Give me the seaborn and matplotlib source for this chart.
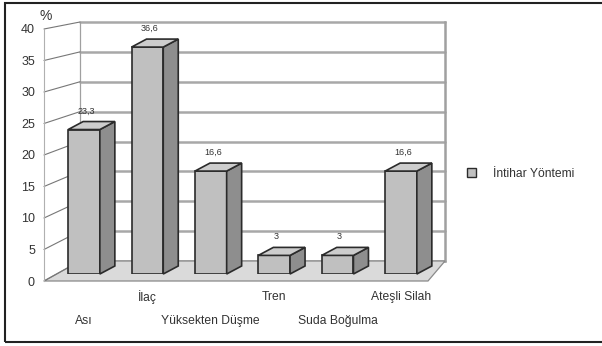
import matplotlib
matplotlib.use("Agg")
import matplotlib.pyplot as plt
import seaborn as sns
import pandas as pd
from matplotlib.patches import Polygon, Rectangle, Patch
from matplotlib.lines import Line2D

# ---- data ----
categories = ["Ası", "İlaç", "Yüksekten Düşme", "Tren", "Suda Boğulma", "Ateşli Silah"]
values = [23.3, 36.6, 16.6, 3, 3, 16.6]
series_name = "İntihar Yöntemi"
y_ticks = [0, 5, 10, 15, 20, 25, 30, 35, 40]

df = pd.DataFrame({"method": categories, "pct": values})

sns.set_theme(style="white")
plt.rcParams["font.family"] = ["Liberation Sans", "DejaVu Sans"]

W, H = 602, 346
fig = plt.figure(figsize=(W / 100, H / 100), dpi=100)
fig.patch.set_facecolor("white")


def rect(l, t, r, b):
    return [l / W, 1 - b / H, (r - l) / W, (b - t) / H]


TXT = "#333333"
FRONT, SIDE, TOP, EDGE = "#c0c0c0", "#8e8e8e", "#cdcdcd", "#2b2b2b"
DX, DY = 15, 8  # depth offset in pixels

# back wall
axC = fig.add_axes(rect(80, 22, 445, 261), zorder=0)
axC.set_facecolor("none")
axC.set_xlim(0, 1)
axC.set_ylim(0, 40)
axC.set_yticks(y_ticks)
axC.set_xticks([])
axC.tick_params(axis="y", length=0, labelleft=False)
axC.yaxis.grid(True, color="#a8a8a8", lw=1.8)
for ln in axC.get_ygridlines():
    ln.set_clip_on(False)
for s in ["top", "bottom"]:
    axC.spines[s].set_visible(False)
axC.spines["left"].set_color("#a0a0a0")
axC.spines["left"].set_linewidth(0.9)
axC.spines["right"].set_color("#a0a0a0")
axC.spines["right"].set_linewidth(1.8)

# front value axis
axB = fig.add_axes(rect(44, 29, 45, 281), zorder=0.5)
axB.set_facecolor("none")
axB.set_xlim(0, 1)
axB.set_ylim(0, 40)
axB.set_yticks(y_ticks)
axB.set_xticks([])
axB.tick_params(axis="y", length=0, pad=6.5, labelsize=9, labelcolor=TXT)
for s in ["top", "bottom", "right"]:
    axB.spines[s].set_visible(False)
axB.spines["left"].set_color("#b0b0b0")
axB.spines["left"].set_linewidth(0.8)

# bars
axA = fig.add_axes(rect(44, 26, 428, 274), zorder=1)
axA.set_facecolor("none")
sns.barplot(data=df, x="method", y="pct", color=FRONT, saturation=1, width=0.5,
            edgecolor=EDGE, linewidth=1.2, ax=axA, label=series_name)
if axA.get_legend() is not None:
    axA.get_legend().remove()
axA.set_xlim(-0.631, 5.426)
axA.set_ylim(0, 40)
axA.set_xticks([])
axA.set_yticks([])
axA.set_xlabel("")
axA.set_ylabel("")
for s in axA.spines.values():
    s.set_visible(False)

inv = fig.transFigure.inverted()


def tofig(pts):
    return inv.transform(pts)


# floor
fl = axB.transData.transform((0, 0))
bl = axC.transData.transform((0, 0))
br = axC.transData.transform((1, 0))
fr_x = axA.transAxes.transform((1, 0))[0]
floor = Polygon(tofig([fl, (fr_x, fl[1]), br, bl]), closed=True, transform=fig.transFigure,
                facecolor="#dadada", edgecolor="#8a8a8a", lw=0.9, zorder=0.3)
fig.add_artist(floor)

# left wall tick connectors
for v in y_ticks:
    p0 = axB.transData.transform((0, v))
    p1 = axC.transData.transform((0, v))
    pts = tofig([p0, p1])
    fig.add_artist(Line2D(pts[:, 0], pts[:, 1], transform=fig.transFigure,
                          color="#777777", lw=0.8, zorder=0.4))

# 3D faces on bars
for p in axA.patches:
    x0, x1 = p.get_x(), p.get_x() + p.get_width()
    h = p.get_height()
    X0, Y0 = axA.transData.transform((x0, 0))
    X1, Y1 = axA.transData.transform((x1, h))
    side = [(X1, Y0), (X1, Y1), (X1 + DX, Y1 + DY), (X1 + DX, Y0 + DY)]
    top = [(X0, Y1), (X1, Y1), (X1 + DX, Y1 + DY), (X0 + DX, Y1 + DY)]
    fig.add_artist(Polygon(tofig(side), closed=True, transform=fig.transFigure,
                           facecolor=SIDE, edgecolor=EDGE, lw=1.2, zorder=2))
    fig.add_artist(Polygon(tofig(top), closed=True, transform=fig.transFigure,
                           facecolor=TOP, edgecolor=EDGE, lw=1.2, zorder=2))

# value labels
for i, v in enumerate(values):
    txt = f"{v:g}".replace(".", ",")
    axA.annotate(txt, xy=(i, v), xytext=(2 * 0.72, (DY + 6) * 0.72),
                 textcoords="offset points", ha="center", va="bottom",
                 fontsize=6.5, color=TXT, zorder=3, annotation_clip=False)

# staggered category labels
for i, c in enumerate(categories):
    off = 23 if i % 2 == 1 else 47
    axA.annotate(c, xy=(i, 0), xycoords=("data", "axes fraction"),
                 xytext=(0, -off * 0.72), textcoords="offset points",
                 ha="center", va="center", fontsize=8.7, color=TXT,
                 annotation_clip=False)

# percent sign
fig.text(46 / W, 1 - 16 / H, "%", ha="center", va="center", fontsize=10, color=TXT)

# legend
leg = fig.legend([Patch(facecolor=FRONT, edgecolor=EDGE, lw=1.0)], [series_name],
                 loc="center left", bbox_to_anchor=(467 / W, 1 - 174 / H), frameon=False,
                 fontsize=8.7, handlelength=0.75, handleheight=0.75,
                 handletextpad=1.4, borderpad=0, borderaxespad=0)
for t in leg.get_texts():
    t.set_color(TXT)

# outer border
fig.add_artist(Rectangle((5 / W, 1 - 342 / H), (W + 10) / W, (342 - 3) / H,
                         transform=fig.transFigure, fill=False, edgecolor="#222222",
                         lw=1.5, zorder=10, clip_on=False))

fig.savefig("out.png", dpi=100)
